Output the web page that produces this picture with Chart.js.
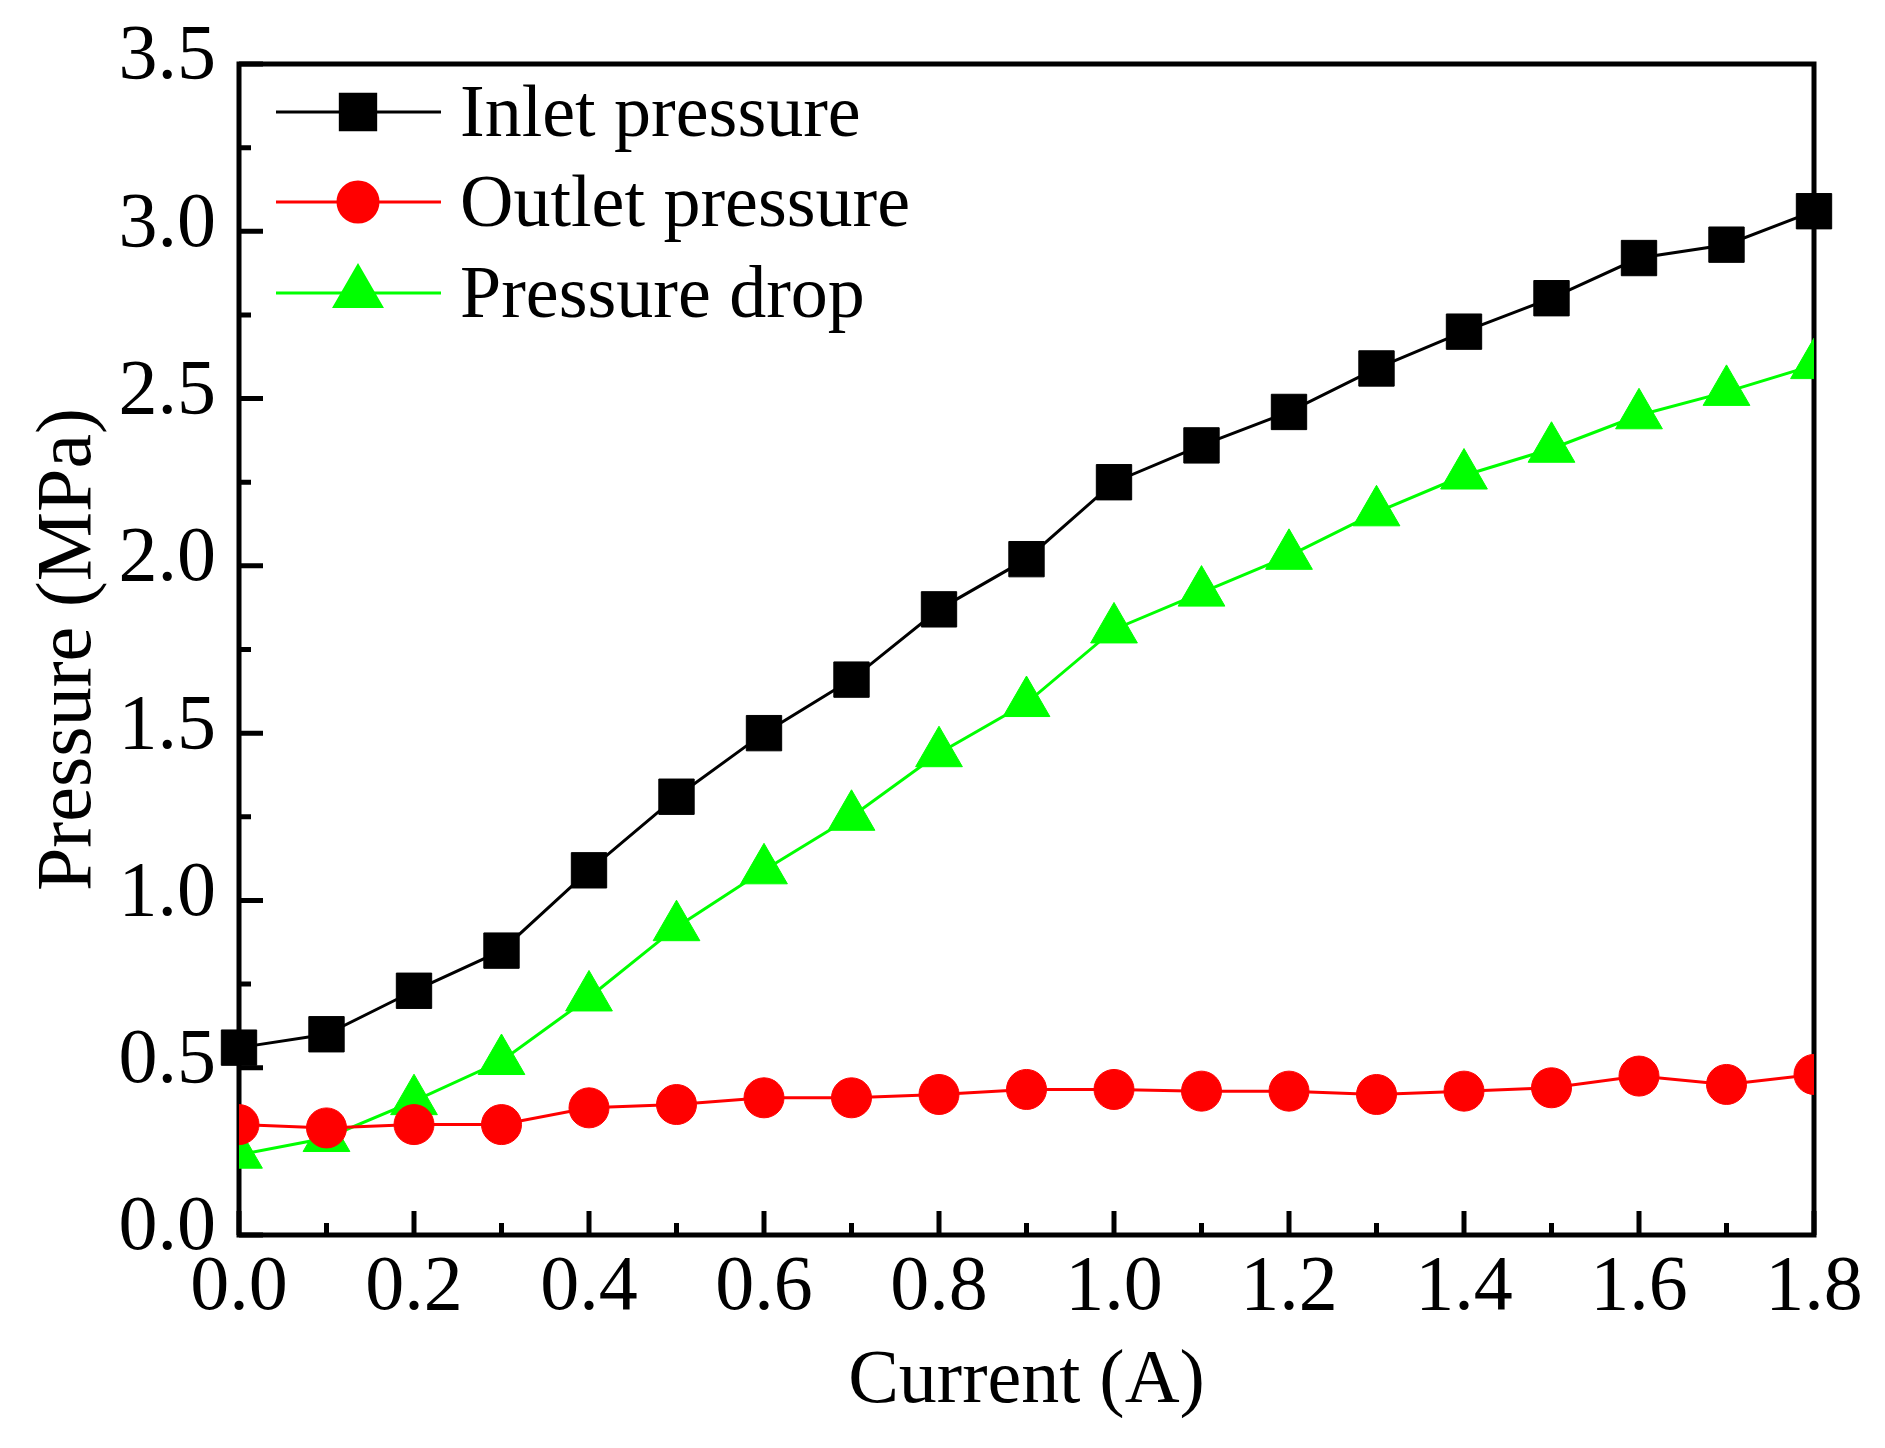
<!DOCTYPE html>
<html>
<head>
<meta charset="utf-8">
<title>Pressure vs current</title>
<script src="https://cdn.jsdelivr.net/npm/chart.js@4.4.1/dist/chart.umd.min.js"></script>
<style>
  html, body { margin: 0; padding: 0; background: #ffffff; }
  canvas { display: block; }
</style>
</head>
<body>
<canvas id="pressureChart" width="1885" height="1448"></canvas>
<script>
// values
const current = [0.0, 0.1, 0.2, 0.3, 0.4, 0.5, 0.6, 0.7, 0.8, 0.9,
                 1.0, 1.1, 1.2, 1.3, 1.4, 1.5, 1.6, 1.7, 1.8];

const inletPressure = [0.56, 0.60, 0.73, 0.85, 1.09, 1.31, 1.50, 1.66, 1.87, 2.02,
                       2.25, 2.36, 2.46, 2.59, 2.70, 2.80, 2.92, 2.96, 3.06];

const outletPressure = [0.33, 0.32, 0.33, 0.33, 0.38, 0.39, 0.41, 0.41, 0.42, 0.435,
                        0.435, 0.43, 0.43, 0.42, 0.43, 0.44, 0.475, 0.45, 0.48];

const pressureDrop = [0.24, 0.29, 0.40, 0.52, 0.71, 0.92, 1.09, 1.25, 1.44, 1.59,
                      1.81, 1.92, 2.03, 2.16, 2.27, 2.35, 2.45, 2.52, 2.60];

const xTicks = [0.0, 0.2, 0.4, 0.6, 0.8, 1.0, 1.2, 1.4, 1.6, 1.8];
const xMinorTicks = [0.1, 0.3, 0.5, 0.7, 0.9, 1.1, 1.3, 1.5, 1.7];
const yTicks = [0.0, 0.5, 1.0, 1.5, 2.0, 2.5, 3.0, 3.5];
const yMinorTicks = [0.25, 0.75, 1.25, 1.75, 2.25, 2.75, 3.25];

const FONT = "'Liberation Serif', 'Times New Roman', serif";

function toPoints(ys) {
    return current.map((x, i) => ({ x: x, y: ys[i] }));
}

// box around the plot + inward major/minor ticks on bottom and left
const frameTicks = {
    id: "frameTicks",
    beforeDatasetsDraw(chart) {
        const { ctx, chartArea: a, scales: { x, y } } = chart;
        ctx.save();
        ctx.strokeStyle = "#000";
        ctx.lineWidth = 5;
        ctx.strokeRect(a.left, a.top, a.right - a.left, a.bottom - a.top);

        ctx.beginPath();
        xTicks.forEach(v => {
            const px = x.getPixelForValue(v);
            ctx.moveTo(px, a.bottom);
            ctx.lineTo(px, a.bottom - 24);
        });
        xMinorTicks.forEach(v => {
            const px = x.getPixelForValue(v);
            ctx.moveTo(px, a.bottom);
            ctx.lineTo(px, a.bottom - 12);
        });
        yTicks.forEach(v => {
            const py = y.getPixelForValue(v);
            ctx.moveTo(a.left, py);
            ctx.lineTo(a.left + 24, py);
        });
        yMinorTicks.forEach(v => {
            const py = y.getPixelForValue(v);
            ctx.moveTo(a.left, py);
            ctx.lineTo(a.left + 12, py);
        });
        ctx.stroke();
        ctx.restore();
    }
};

// legend drawn inside the plot, line + marker + label
const insideLegend = {
    id: "insideLegend",
    afterDraw(chart) {
        const { ctx, chartArea: a } = chart;
        const rowY = [48, 138, 229];
        ctx.save();
        chart.data.datasets.forEach((ds, i) => {
            const y = a.top + rowY[i];
            ctx.strokeStyle = ds.borderColor;
            ctx.fillStyle = ds.pointBackgroundColor;
            ctx.lineWidth = ds.borderWidth;
            ctx.beginPath();
            ctx.moveTo(a.left + 37, y);
            ctx.lineTo(a.left + 202, y);
            ctx.stroke();

            Chart.helpers.drawPoint(ctx, {
                pointStyle: ds.pointStyle,
                radius: ds.pointRadius,
                rotation: 0,
                borderWidth: 1
            }, a.left + 119, y);

            ctx.fillStyle = "#000";
            ctx.font = "74px " + FONT;
            ctx.textAlign = "left";
            ctx.textBaseline = "alphabetic";
            ctx.fillText(ds.label, a.left + 221, y + 24);
        });
        ctx.restore();
    }
};

new Chart(document.getElementById("pressureChart"), {

    type: "line",

    data: {
        datasets: [
            {
                label: "Inlet pressure",
                data: toPoints(inletPressure),
                borderColor: "#000000",
                pointBackgroundColor: "#000000",
                pointBorderColor: "#000000",
                borderWidth: 3,
                pointStyle: "rect",
                pointRadius: 25,
                pointBorderWidth: 1,
                clip: false
            },
            {
                label: "Outlet pressure",
                data: toPoints(outletPressure),
                borderColor: "#ff0000",
                pointBackgroundColor: "#ff0000",
                pointBorderColor: "#ff0000",
                borderWidth: 3,
                pointStyle: "circle",
                pointRadius: 20,
                pointBorderWidth: 1,
                clip: 0
            },
            {
                label: "Pressure drop",
                data: toPoints(pressureDrop),
                borderColor: "#00ff00",
                pointBackgroundColor: "#00ff00",
                pointBorderColor: "#00ff00",
                borderWidth: 3,
                pointStyle: "triangle",
                pointRadius: 27,
                pointBorderWidth: 1,
                clip: 0
            }
        ]
    },

    options: {
        responsive: false,
        animation: false,
        devicePixelRatio: 1,
        layout: {
            padding: { top: 64, right: 71, left: 0, bottom: 0 }
        },
        elements: {
            line: { tension: 0 }
        },
        plugins: {
            legend: { display: false },
            tooltip: { enabled: false }
        },
        scales: {
            x: {
                type: "linear",
                min: 0,
                max: 1.8,
                grid: { display: false, drawTicks: false },
                border: { display: false },
                afterBuildTicks: s => { s.ticks = xTicks.map(v => ({ value: v })); },
                afterFit: s => {
                    s.height = 213;
                    s.paddingLeft = 0;
                    s.paddingRight = 0;
                },
                ticks: {
                    padding: 7,
                    color: "#000",
                    maxRotation: 0,
                    autoSkip: false,
                    font: { family: FONT, size: 78 },
                    callback: v => Number(v).toFixed(1)
                },
                title: {
                    display: true,
                    text: "Current (A)",
                    color: "#000",
                    padding: { top: 0, bottom: 20 },
                    font: { family: FONT, size: 76 }
                }
            },
            y: {
                type: "linear",
                min: 0,
                max: 3.5,
                grid: { display: false, drawTicks: false },
                border: { display: false },
                afterBuildTicks: s => { s.ticks = yTicks.map(v => ({ value: v })); },
                afterFit: s => {
                    s.width = 239;
                    s.paddingTop = 0;
                    s.paddingBottom = 0;
                },
                ticks: {
                    padding: 23,
                    labelOffset: -6,
                    color: "#000",
                    autoSkip: false,
                    font: { family: FONT, size: 78 },
                    callback: v => Number(v).toFixed(1)
                },
                title: {
                    display: true,
                    text: "Pressure (MPa)",
                    color: "#000",
                    padding: { top: 23, bottom: 0 },
                    font: { family: FONT, size: 78 }
                }
            }
        }
    },

    plugins: [frameTicks, insideLegend]
});
</script>
</body>
</html>
